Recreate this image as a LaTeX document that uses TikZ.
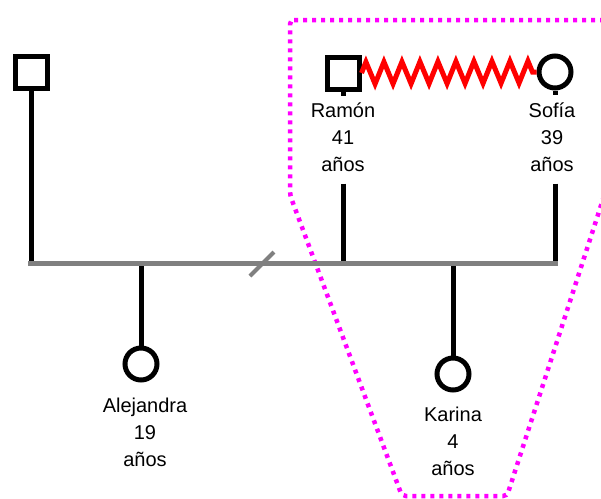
\documentclass[tikz,border=0pt]{standalone}
\usepackage{fontspec}
\setmainfont{Liberation Sans}
\usetikzlibrary{decorations.pathmorphing}
\definecolor{sibgray}{RGB}{128,128,128}
\definecolor{boxpink}{RGB}{255,0,255}
\definecolor{tiered}{RGB}{255,0,0}

\begin{document}
\begin{tikzpicture}[x=1pt, y=-1pt]
    \tikzstyle{gen_male}   = [shape = rectangle, draw = black, line width=5pt, minimum size=32pt, inner sep=0pt]
    \tikzstyle{gen_female} = [shape = circle,    draw = black, line width=5pt, minimum size=32pt, inner sep=0pt]
    \tikzstyle{gen_label}  = [align = center, inner sep=0pt, font=\fontsize{20}{27}\selectfont]
    \tikzstyle{gen_line}   = [draw = black,   line width=5pt]
    \tikzstyle{gen_sibs}   = [draw = sibgray, line width=5pt]
    \tikzstyle{gen_tie}    = [draw = tiered,  line width=5pt, decorate,
                              decoration={zigzag, segment length=18pt, amplitude=11pt}]
    \tikzstyle{gen_group}  = [draw = boxpink, line width=4.5pt, dash pattern=on 4pt off 5pt, rounded corners=4pt]

    \useasboundingbox (0,0) rectangle (601,498);
    \clip (0,0) rectangle (601,498);

    % household box
    \draw[gen_group] (290,20) -- (606,20) -- (606,190) -- (507,496) -- (402,496) -- (290,195) -- cycle;

    \node[gen_male]   at (31,  72)  (padre) {};

    \node[gen_male]   at (343, 73)  (ramon) {};
    \node[gen_label]  at (343, 137) (ramon_lbl) {Ramón\\41\\años};

    \node[gen_female] at (555, 72)  (sofia) {};
    \node[gen_label]  at (552, 137) (sofia_lbl) {Sofía\\39\\años};

    \node[gen_female] at (141, 364) (alejandra) {};
    \node[gen_label]  at (145, 432) (alejandra_lbl) {Alejandra\\19\\años};

    \node[gen_female] at (453, 374) (karina) {};
    \node[gen_label]  at (453, 441) (karina_lbl) {Karina\\4\\años};

    \coordinate (sibs_l) at (28,  263);
    \coordinate (sibs_r) at (558, 263);

    \draw[gen_tie] (ramon.east) -- (sofia.west);

    \draw[gen_line]
      (padre.south) -- (padre.south |- sibs_l)
      (ramon.south) -- ++(0,4)
      (sofia.south) -- ++(0,4)
      ([yshift=-12pt]ramon_lbl.south) -- (ramon_lbl.south |- sibs_l)
      ([yshift=-12pt]sofia_lbl.south -| sofia) -- (sofia |- sibs_l)
      (alejandra.north) -- (alejandra |- sibs_l)
      (karina.north) -- (karina |- sibs_l)
    ;

    \draw[gen_sibs] (sibs_l) -- (sibs_r);
    \draw[gen_sibs, line width=4pt] (250,276) -- (274,252);
  \end{tikzpicture}
\end{document}
